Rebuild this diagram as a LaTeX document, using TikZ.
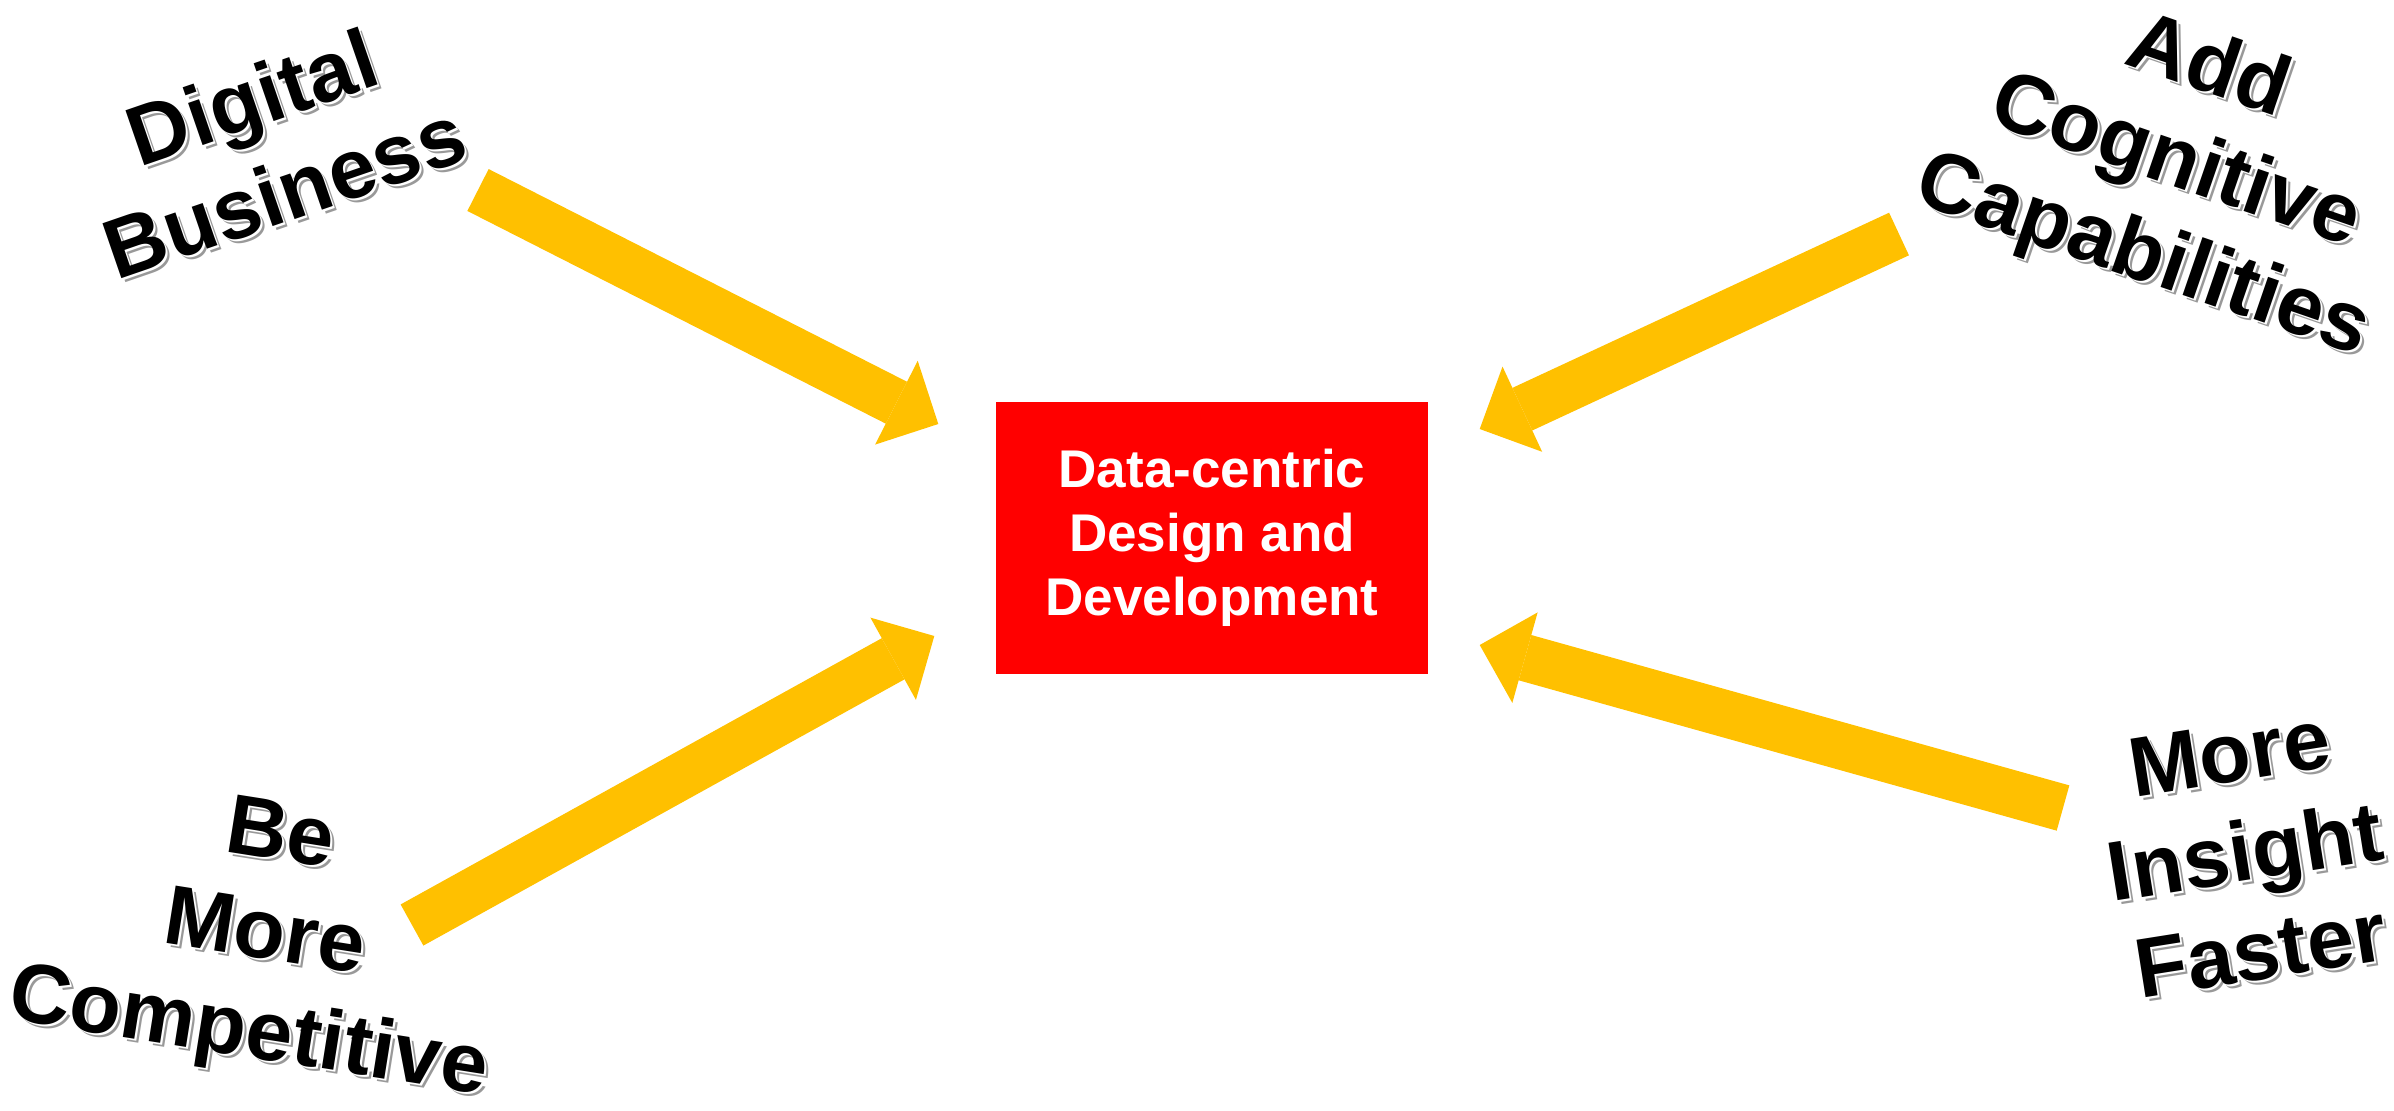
\documentclass[tikz,border=0pt]{standalone}
\usepackage{fontspec}
\setmainfont{Liberation Sans}
\usepackage{tikz}
\usetikzlibrary{arrows.meta,calc}
\definecolor{arrowgold}{RGB}{255,192,0}
\definecolor{boxred}{RGB}{255,0,0}

\begin{document}
\begin{tikzpicture}[
    goal/.style={font=\fontsize{24pt}{28.4pt}\selectfont\bfseries, align=center, inner sep=0pt},
    push/.style={line width=0.47cm, arrowgold, -{Triangle[length=0.47cm, width=0.94cm, line width=0pt]}}
  ]
    \useasboundingbox (0,0) rectangle (23.94,11.10);

    % Centre box
    \node[fill=boxred, text=white, minimum width=4.32cm, minimum height=2.72cm, align=center,
          font=\fontsize{15.1pt}{18.2pt}\selectfont\bfseries] (core) at (12.12,5.72)
          {Data-centric\\Design and\\Development};

    % Goal labels (grey shadow, white rim, black text on top)
    \foreach \nm/\x/\y/\ang/\txt in {
        digital/2.68/9.66/19/{Digital\\Business},
        cognitive/21.75/9.46/-19/{Add\\Cognitive\\Capabilities},
        compete/2.64/1.72/-9/{Be\\More\\Competitive},
        insight/22.45/2.58/9/{More\\Insight\\Faster}} {
        \node[goal, text=black!40, rotate=\ang] at (\x+0.04,\y-0.04) {\txt};
        \node[goal, text=white, rotate=\ang] at (\x+0.02,\y-0.02) {\txt};
        \node[goal, rotate=\ang] (\nm) at (\x,\y) {\txt};
    }

    % Arrows pointing at the box
    \coordinate (digitaltail) at (4.78,9.20);
    \coordinate (cognitivetail) at (18.99,8.76);
    \coordinate (competetail) at (4.12,1.85);
    \coordinate (insighttail) at (20.63,3.02);
    \draw[push] (digitaltail) -- ($(core.west)+(-0.57,1.14)$);
    \draw[push] (cognitivetail) -- ($(core.east)+(0.51,1.09)$);
    \draw[push] (competetail) -- ($(core.west)+(-0.61,-0.98)$);
    \draw[push] (insighttail) -- ($(core.east)+(0.51,-1.07)$);
\end{tikzpicture}
\end{document}
